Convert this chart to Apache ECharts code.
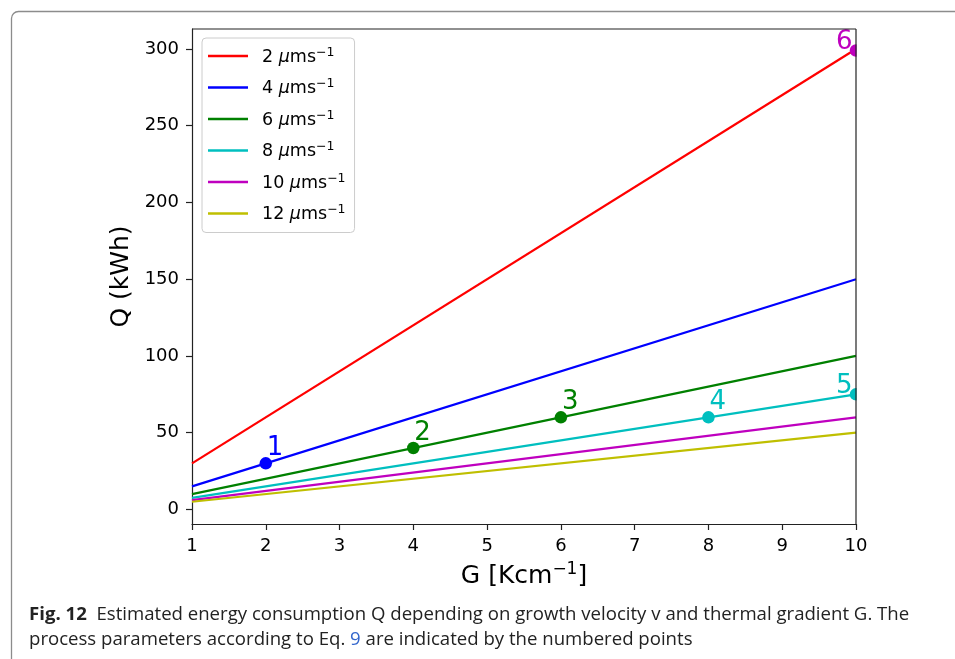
<!DOCTYPE html>
<html><head><meta charset="utf-8">
<script src="https://cdn.jsdelivr.net/npm/echarts@6/dist/echarts.min.js"></script>
<style>html,body{margin:0;padding:0;background:#fff}#c{width:955px;height:659px}</style>
</head><body><div id="c"></div>
<script>
// ---- data ----
const gValues = [1, 10];                 // G [K/cm] at the ends of each straight line
const velocities = [2, 4, 6, 8, 10, 12];  // growth velocity (µm/s)
const q_v2  = [30, 300];
const q_v4  = [15, 150];
const q_v6  = [10, 100];
const q_v8  = [7.5, 75];
const q_v10 = [6, 60];
const q_v12 = [5, 50];
const pointG = [2, 4, 6, 8, 10, 10];
const pointQ = [30, 40, 60, 60, 75, 299];
const pointNames = ['1', '2', '3', '4', '5', '6'];
const pointVelocity = [4, 6, 6, 8, 8, 10];
const yTicks = [0, 50, 100, 150, 200, 250, 300];
const xMin = 1, xMax = 10, yMin = -9.5, yMax = 313;

const lineData = {2: q_v2, 4: q_v4, 6: q_v6, 8: q_v8, 10: q_v10, 12: q_v12};
const colors = {2: '#ff0000', 4: '#0000ff', 6: '#008000', 8: '#00bfbf', 10: '#bf00bf', 12: '#bfbf00'};
const FONT = 'DejaVu Sans';

const chart = echarts.init(document.getElementById('c'), null, {renderer: 'canvas'});

const series = velocities.map(v => ({
  name: String(v), type: 'line', symbol: 'none', showSymbol: false, silent: true,
  data: gValues.map((g, i) => [g, lineData[v][i]]),
  lineStyle: {color: colors[v], width: 2.2, opacity: 1}, itemStyle: {color: colors[v]}, z: 2
}));
series.push({
  type: 'scatter', symbol: 'circle', symbolSize: 12.5, z: 3, silent: true, clip: false,
  data: pointG.map((g, i) => ({
    value: [g, pointQ[i]], name: pointNames[i],
    itemStyle: {color: colors[pointVelocity[i]], opacity: 1},
    label: {color: colors[pointVelocity[i]], offset: g >= xMax ? [-20, 5] : [1, -2]}
  })),
  itemStyle: {opacity: 1},
  label: {show: true, position: 'inside', align: 'left', verticalAlign: 'bottom',
    formatter: p => p.name, fontSize: 26, fontFamily: FONT}
});

const supRich = {
  n: {fontFamily: FONT, fontSize: 17.5, color: '#000', lineHeight: 20, verticalAlign: 'bottom'},
  mu: {fontFamily: FONT, fontSize: 17.5, color: '#000', lineHeight: 20, verticalAlign: 'bottom', fontStyle: 'italic'},
  sup: {fontFamily: FONT, fontSize: 12.5, color: '#000', lineHeight: 12, verticalAlign: 'top'}
};

chart.setOption({
  animation: false,
  backgroundColor: '#fff',
  grid: {left: 192, top: 29, width: 664, height: 495, show: false},
  title: {
    left: 24, top: 597,
    text: '{b|Fig. 12}  Estimated energy consumption Q depending on growth velocity v and thermal gradient G. The\nprocess parameters according to Eq. {a|9} are indicated by the numbered points',
    textStyle: {fontFamily: 'Open Sans', fontSize: 18.6, fontWeight: 'normal', color: '#222', lineHeight: 25,
      rich: {
        b: {fontFamily: 'Open Sans', fontSize: 18.6, fontWeight: 'bold', color: '#222', lineHeight: 25},
        a: {fontFamily: 'Open Sans', fontSize: 18.6, color: '#3366cc', lineHeight: 25}
      }}
  },
  legend: {
    orient: 'vertical', left: 202, top: 38, padding: [8, 9, 9, 6],
    itemWidth: 40, itemHeight: 2.5, icon: 'rect', itemGap: 11.5,
    backgroundColor: 'rgba(255,255,255,0.8)', borderColor: '#cccccc', borderWidth: 1, borderRadius: 4,
    data: velocities.map(String),
    formatter: n => `{n|${n} }{mu|μ}{n|ms}{sup|−1}`,
    textStyle: {padding: [0, 0, 0, 9], rich: supRich}
  },
  xAxis: {
    type: 'value', min: xMin, max: xMax, interval: 1,
    name: '{n|G [Kcm}{sup|−1}{n|]}', nameLocation: 'middle', nameGap: 37,
    nameTextStyle: {rich: {
      n: {fontFamily: FONT, fontSize: 25, color: '#000', lineHeight: 28, verticalAlign: 'bottom'},
      sup: {fontFamily: FONT, fontSize: 17, color: '#000', lineHeight: 17, verticalAlign: 'top'}
    }},
    axisLine: {show: true, onZero: false, lineStyle: {color: '#222', width: 1.2}},
    axisTick: {show: true, length: 6, lineStyle: {color: '#222', width: 1.2}},
    axisLabel: {fontFamily: FONT, fontSize: 18, color: '#000', margin: 13},
    splitLine: {show: false}
  },
  yAxis: {
    type: 'value', min: yMin, max: yMax,
    name: 'Q (kWh)', nameLocation: 'middle', nameGap: 55,
    nameTextStyle: {fontFamily: FONT, fontSize: 25, color: '#000'},
    axisLine: {show: true, onZero: false, lineStyle: {color: '#222', width: 1.2}},
    axisTick: {show: true, length: 6, customValues: yTicks, lineStyle: {color: '#222', width: 1.2}},
    axisLabel: {fontFamily: FONT, fontSize: 18, color: '#000', margin: 13, customValues: yTicks},
    splitLine: {show: false}
  },
  series: series
});

const tr = chart.convertToPixel({xAxisIndex: 0, yAxisIndex: 0}, [xMax, yMax]);
const bl = chart.convertToPixel({xAxisIndex: 0, yAxisIndex: 0}, [xMin, yMin]);
chart.setOption({
  graphic: [
    {type: 'rect', z: -10, silent: true, shape: {x: 11.5, y: 11.5, width: 1200, height: 900, r: 7},
      style: {fill: 'none', stroke: '#8c8c8c', lineWidth: 1.3}},
    {type: 'rect', z: 100, silent: true, shape: {x: tr[0] + 0.6, y: tr[1], width: 20, height: bl[1] - tr[1]},
      style: {fill: '#fff'}},
    {type: 'line', z: 101, silent: true, shape: {x1: tr[0], y1: tr[1], x2: tr[0], y2: bl[1]},
      style: {stroke: '#222', lineWidth: 1.2}},
    {type: 'line', z: 101, silent: true, shape: {x1: bl[0], y1: tr[1], x2: tr[0], y2: tr[1]},
      style: {stroke: '#222', lineWidth: 1.2}}
  ]
});
</script></body></html>
